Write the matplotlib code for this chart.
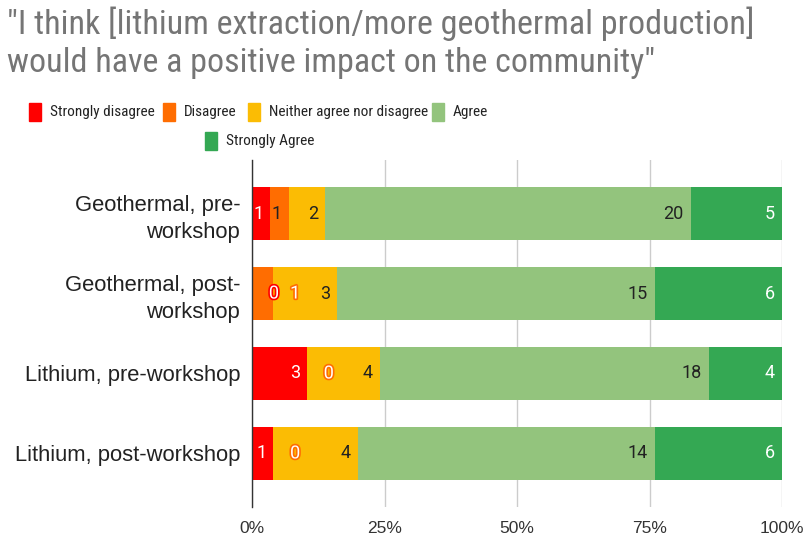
import matplotlib
matplotlib.use("Agg")
import matplotlib.pyplot as plt
import matplotlib.patheffects as pe
from matplotlib.patches import Rectangle

# survey responses, one list per answer, rows top to bottom
rows = ["Geothermal, pre-\nworkshop", "Geothermal, post-\nworkshop",
        "Lithium, pre-workshop", "Lithium, post-workshop"]
series = ["Strongly disagree", "Disagree", "Neither agree nor disagree",
          "Agree", "Strongly Agree"]
strongly_disagree = [1, 0, 3, 1]
disagree = [1, 1, 0, 0]
neither = [2, 3, 4, 4]
agree = [20, 15, 18, 14]
strongly_agree = [5, 6, 4, 6]
xticks = [0, 25, 50, 75, 100]
xtick_labels = ["0%", "25%", "50%", "75%", "100%"]

colors = ["#ff0000", "#ff6d01", "#fbbc04", "#93c47d", "#34a853"]
label_colors = ["white", "#222222", "#222222", "#222222", "white"]

condensed = ["Roboto Condensed", "Roboto", "DejaVu Sans"]
sans = ["Liberation Sans", "DejaVu Sans"]

W, H = 809, 541
fig = plt.figure(figsize=(W / 100, H / 100), dpi=100)
x0, x1, ytop, ybot = 252, 782, 160, 507
ax = fig.add_axes([x0 / W, 1 - ybot / H, (x1 - x0) / W, (ybot - ytop) / H])

values = [strongly_disagree, disagree, neither, agree, strongly_agree]
px_per_pct = (x1 - x0) / 100.0

for r in range(len(rows)):
    total = sum(v[r] for v in values)
    left = 0.0
    prev_right = -1e9
    for s, vals in enumerate(values):
        v = vals[r]
        width = 100.0 * v / total
        ax.barh(r, width, left=left, height=0.66, color=colors[s], linewidth=0)
        # label placement in pixels from the axis origin; labels that do not
        # fit inside their segment go just right of it, outlined
        seg_l = left * px_per_pct
        seg_r = (left + width) * px_per_pct
        tw = 9 * len(str(v))
        right = seg_r - 7
        outside = v == 0 or (right - tw) < seg_l
        if not outside and right - tw < prev_right + 5:
            outside = True
        if outside:
            right = max(seg_r + 18, prev_right + 7) + tw
        prev_right = right
        txt = ax.text(right / px_per_pct, r, str(v), ha="right", va="center",
                      fontsize=13, family="Roboto",
                      color="white" if outside else label_colors[s])
        if outside:
            txt.set_path_effects([pe.Stroke(linewidth=2.4, foreground=colors[s]),
                                  pe.Normal()])
        left += width

ax.set_xlim(0, 100)
ax.set_ylim(3.67, -0.67)
ax.set_xticks(xticks)
ax.set_xticklabels(xtick_labels, family=sans, fontsize=12.5, color="#333333")
ax.set_yticks(range(len(rows)))
ax.set_yticklabels(rows, family=sans, fontsize=15.8, color="#222222",
                   linespacing=1.35)
ax.tick_params(length=0, pad=8.5)
ax.tick_params(axis="x", pad=10)
ax.grid(axis="x", color="#cccccc", linewidth=1)
ax.set_axisbelow(True)
for sp in ["top", "right", "bottom"]:
    ax.spines[sp].set_visible(False)
ax.spines["left"].set_color("#333333")
ax.spines["left"].set_linewidth(1)

fig.text(7 / W, 1 - 7 / H,
         "\"I think [lithium extraction/more geothermal production]\n"
         "would have a positive impact on the community\"",
         family=condensed, fontsize=24.5, color="#757575", ha="left", va="top",
         linespacing=1.22)

# legend: two centred rows
legend_pos = [(29, 112), (163, 112), (248, 112), (432, 112), (205, 141)]
for s, (lx, ly) in enumerate(legend_pos):
    fig.patches.append(Rectangle((lx / W, 1 - (ly + 9) / H), 12 / W, 18 / H,
                                 transform=fig.transFigure, color=colors[s]))
    fig.text((lx + 21) / W, 1 - ly / H, series[s], family=condensed, fontsize=11,
             color="#222222", ha="left", va="center")

fig.savefig("out.png", dpi=100)
